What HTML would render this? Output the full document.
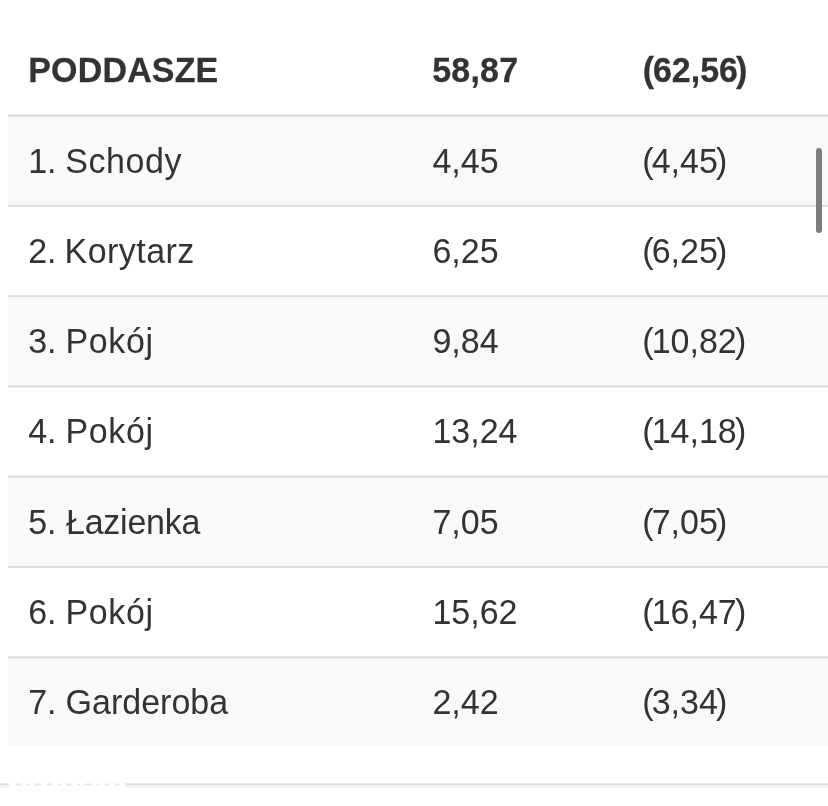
<!DOCTYPE html>
<html lang="pl"><head><meta charset="utf-8"><title>Poddasze</title>
<style>
html,body{margin:0;padding:0;background:#fff;}
body{width:828px;height:806px;overflow:hidden;position:relative;font-family:"Liberation Sans",Arial,Helvetica,sans-serif;font-size:34px;color:#333;}
svg.bg{position:absolute;left:0;top:0;}
.r{position:absolute;left:0;width:828px;height:40px;line-height:40px;white-space:nowrap;transform:scaleY(1.033);transform-origin:0 31.78px;}
.r span{position:absolute;top:0;}
.r i{font-style:normal;}
.po{margin-right:-2px;} .pc{margin-left:-1.8px;}
.h .po{margin-right:-1.1px;} .h .pc{margin-left:-2.1px;}
.c1{left:28.2px;} .c2{left:432.4px;} .c3{left:642.3px;}
.h .c3{left:642.7px;}
.h{font-weight:bold;-webkit-text-stroke:0.25px #333;}
.h .c2{left:432.2px;letter-spacing:0.2px;}
.h .c1{left:28.3px;letter-spacing:0.15px;}
</style></head><body>
<svg class="bg" width="828" height="806" viewBox="0 0 828 806">
<rect x="8" y="114.55" width="830" height="90.30" fill="#f9f9f9"/>
<rect x="8" y="114.55" width="830" height="2" fill="#ddd"/>
<rect x="8" y="204.85" width="830" height="2" fill="#ddd"/>
<rect x="8" y="295.15" width="830" height="90.30" fill="#f9f9f9"/>
<rect x="8" y="295.15" width="830" height="2" fill="#ddd"/>
<rect x="8" y="385.45" width="830" height="2" fill="#ddd"/>
<rect x="8" y="475.75" width="830" height="90.30" fill="#f9f9f9"/>
<rect x="8" y="475.75" width="830" height="2" fill="#ddd"/>
<rect x="8" y="566.05" width="830" height="2" fill="#ddd"/>
<rect x="8" y="656.35" width="830" height="90.30" fill="#f9f9f9"/>
<rect x="8" y="656.35" width="830" height="2" fill="#ddd"/>
<rect x="0" y="783.4" width="9.3" height="2" fill="#dbdbdb"/>
<rect x="0" y="785.4" width="9.3" height="2.4" fill="#f4f4f4"/>
<rect x="124.7" y="783.4" width="703.3" height="2" fill="#dbdbdb"/>
<rect x="124.7" y="785.4" width="703.3" height="2.4" fill="#f4f4f4"/>
<rect x="15.6" y="783.5" width="5.5" height="2" rx="1" fill="#e6e6e6"/>
<rect x="26" y="783.5" width="3.6" height="2" rx="1" fill="#e6e6e6"/>
<rect x="34.7" y="783.5" width="6.7" height="2" rx="1" fill="#e6e6e6"/>
<rect x="47" y="783.5" width="5.4" height="2" rx="1" fill="#e6e6e6"/>
<rect x="57.5" y="783.5" width="3.4" height="2" rx="1" fill="#e6e6e6"/>
<rect x="66" y="783.5" width="5.8" height="2" rx="1" fill="#e6e6e6"/>
<rect x="77.3" y="783.5" width="3.0" height="2" rx="1" fill="#e6e6e6"/>
<rect x="84.5" y="783.5" width="7.2" height="2" rx="1" fill="#e6e6e6"/>
<rect x="96.3" y="783.5" width="2.6" height="2" rx="1" fill="#e6e6e6"/>
<rect x="104.8" y="783.5" width="4.6" height="2" rx="1" fill="#e6e6e6"/>
<rect x="115" y="783.5" width="5.0" height="2" rx="1" fill="#e6e6e6"/>
<rect x="816" y="148" width="6" height="85" rx="3" ry="3" fill="#7e7e7e"/>
</svg>
<div class="r h" style="top:50.32px"><span class="c1">PODDASZE</span><span class="c2">58,87</span><span class="c3"><i class="po">(</i>62,56<i class="pc">)</i></span></div>
<div class="r" style="top:140.52px"><span class="c1">1. <i style="letter-spacing:0.58px;margin-left:-0.8px">Schody</i></span><span class="c2">4,45</span><span class="c3"><i class="po">(</i>4,45<i class="pc">)</i></span></div>
<div class="r" style="top:230.82px"><span class="c1">2. <i style="letter-spacing:0.44px;margin-left:-1.4px">Korytarz</i></span><span class="c2">6,25</span><span class="c3"><i class="po">(</i>6,25<i class="pc">)</i></span></div>
<div class="r" style="top:321.12px"><span class="c1">3. <i style="letter-spacing:0.65px;margin-left:-0.6px">Pokój</i></span><span class="c2">9,84</span><span class="c3"><i class="po">(</i>10,82<i class="pc">)</i></span></div>
<div class="r" style="top:411.42px"><span class="c1">4. <i style="letter-spacing:0.65px;margin-left:-0.6px">Pokój</i></span><span class="c2">13,24</span><span class="c3"><i class="po">(</i>14,18<i class="pc">)</i></span></div>
<div class="r" style="top:501.72px"><span class="c1">5. <i style="letter-spacing:-0.27px;margin-left:0.1px">Łazienka</i></span><span class="c2">7,05</span><span class="c3"><i class="po">(</i>7,05<i class="pc">)</i></span></div>
<div class="r" style="top:592.02px"><span class="c1">6. <i style="letter-spacing:0.65px;margin-left:-0.6px">Pokój</i></span><span class="c2">15,62</span><span class="c3"><i class="po">(</i>16,47<i class="pc">)</i></span></div>
<div class="r" style="top:682.32px"><span class="c1">7. <i style="letter-spacing:0px;margin-left:-0.4px">Garderoba</i></span><span class="c2">2,42</span><span class="c3"><i class="po">(</i>3,34<i class="pc">)</i></span></div>
</body></html>
